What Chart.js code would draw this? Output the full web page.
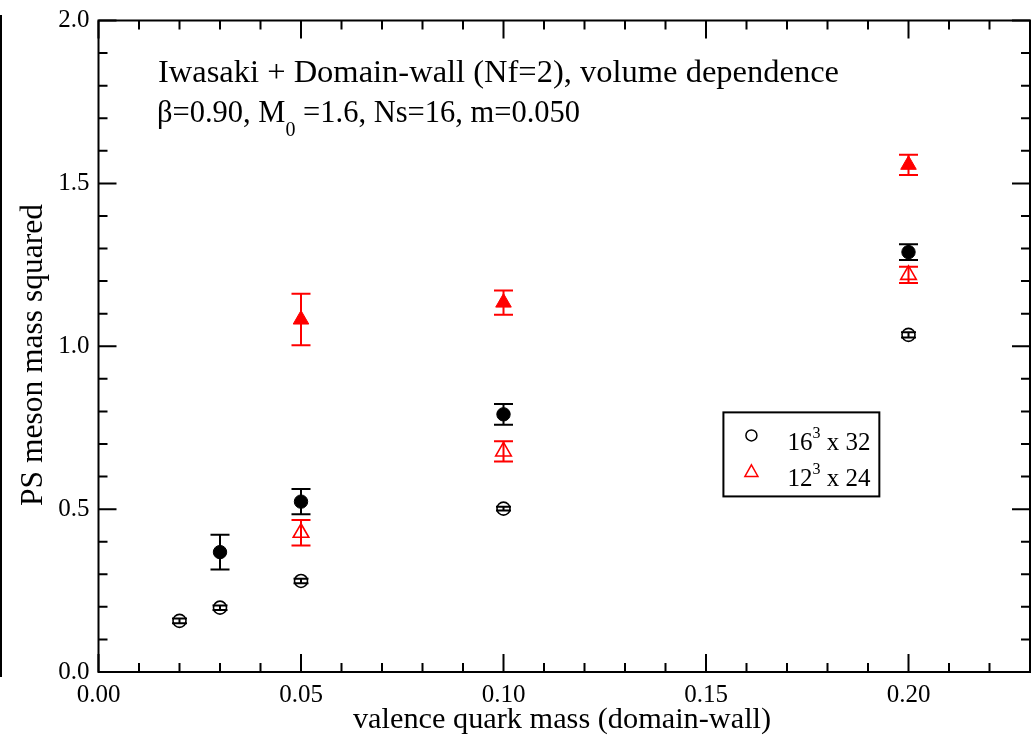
<!DOCTYPE html>
<html>
<head>
<meta charset="utf-8">
<script src="https://cdn.jsdelivr.net/npm/chart.js@4.4.1/dist/chart.umd.min.js"></script>
<style>
  html, body { margin: 0; padding: 0; background: #fff; }
  canvas { display: block; }
</style>
</head>
<body>
<canvas id="c" width="1033" height="735"></canvas>
<script>
const SERIF = '"Liberation Serif", "Times New Roman", serif';

// valence quark masses
const massAll   = [0.02, 0.03, 0.05, 0.10, 0.20];
const massHeavy = [0.03, 0.05, 0.10, 0.20];
const massLarge = [0.05, 0.10, 0.20];

// 16^3 x 32 : open circles
const ps16Open    = [0.157, 0.1975, 0.2795, 0.5015, 1.035];
const ps16OpenErr = [0.007, 0.007, 0.007, 0.006, 0.008];
// 16^3 x 32 : filled circles
const ps16Full    = [0.368, 0.523, 0.791, 1.289];
const ps16FullErr = [0.053, 0.039, 0.032, 0.024];
// 12^3 x 24 : open triangles
const ps12Open    = [0.4275, 0.677, 1.219];
const ps12OpenErr = [0.039, 0.031, 0.025];
// 12^3 x 24 : filled triangles
const ps12Full    = [1.082, 1.134, 1.557];
const ps12FullErr = [0.079, 0.037, 0.031];

const xTicks = [0.00, 0.05, 0.10, 0.15, 0.20];
const yTicks = [0.0, 0.5, 1.0, 1.5, 2.0];

const titleText = 'Iwasaki + Domain-wall (Nf=2), volume dependence';
const subtitleParts = ['\u03B2=0.90, M', '0', ' =1.6, Ns=16, m=0.050'];
const xTitle = 'valence quark mass (domain-wall)';
const yTitle = 'PS meson mass squared';
const legendLabels = [['16', '3', ' x 32'], ['12', '3', ' x 24']];

const points = (xs, ys, es) => xs.map((x, i) => ({ x: x, y: ys[i], err: es[i] }));

const RED = '#ff0000';
const BLACK = '#000000';

// vertical error bars with caps, drawn underneath the symbols
const errorBars = {
  id: 'errorBars',
  beforeDatasetsDraw(chart) {
    const ctx = chart.ctx;
    const xs = chart.scales.x, ys = chart.scales.y;
    chart.data.datasets.forEach(ds => {
      ctx.save();
      ctx.strokeStyle = ds.borderColor;
      ctx.lineWidth = 2;
      const cap = ds.capHalf;
      ds.data.forEach(p => {
        const px = xs.getPixelForValue(p.x);
        const top = ys.getPixelForValue(p.y + p.err);
        const bot = ys.getPixelForValue(p.y - p.err);
        ctx.beginPath();
        ctx.moveTo(px, top); ctx.lineTo(px, bot);
        ctx.moveTo(px - cap, top); ctx.lineTo(px + cap, top);
        ctx.moveTo(px - cap, bot); ctx.lineTo(px + cap, bot);
        ctx.stroke();
      });
      ctx.restore();
    });
  }
};

// frame with inward ticks on all four sides, plus titles and legend
const decorations = {
  id: 'decorations',
  afterDraw(chart) {
    const ctx = chart.ctx;
    const ca = chart.chartArea;
    const xs = chart.scales.x, ys = chart.scales.y;
    ctx.save();
    ctx.strokeStyle = BLACK;
    ctx.lineWidth = 2;
    ctx.strokeRect(ca.left, ca.top, ca.right - ca.left, ca.bottom - ca.top);

    ctx.beginPath();
    for (let i = 0; i <= 23; i++) {
      const v = i / 100;
      const len = (i % 5 === 0) ? 18 : 9;
      const px = xs.getPixelForValue(v);
      ctx.moveTo(px, ca.bottom); ctx.lineTo(px, ca.bottom - len);
      ctx.moveTo(px, ca.top); ctx.lineTo(px, ca.top + len);
    }
    for (let i = 0; i <= 20; i++) {
      const v = i / 10;
      const len = (i % 5 === 0) ? 18 : 9;
      const py = ys.getPixelForValue(v);
      ctx.moveTo(ca.left, py); ctx.lineTo(ca.left + len, py);
      ctx.moveTo(ca.right, py); ctx.lineTo(ca.right - len, py);
    }
    ctx.stroke();

    // left page rule
    ctx.fillStyle = BLACK;
    ctx.fillRect(0, 15, 2, 662);

    // headings
    ctx.fillStyle = BLACK;
    ctx.textBaseline = 'alphabetic';
    ctx.textAlign = 'left';
    ctx.font = '32.5px ' + SERIF;
    ctx.fillText(titleText, 158, 82);
    ctx.font = '30.5px ' + SERIF;
    let tx = 157;
    ctx.fillText(subtitleParts[0], tx, 122);
    tx += ctx.measureText(subtitleParts[0]).width;
    ctx.font = '20px ' + SERIF;
    ctx.fillText(subtitleParts[1], tx, 136);
    tx += ctx.measureText(subtitleParts[1]).width;
    ctx.font = '30.5px ' + SERIF;
    ctx.fillText(subtitleParts[2], tx, 122);

    // axis titles
    ctx.textAlign = 'center';
    ctx.textBaseline = 'alphabetic';
    ctx.font = '30.3px ' + SERIF;
    ctx.fillText(xTitle, 562, 728);
    ctx.save();
    ctx.font = '31.5px ' + SERIF;
    ctx.translate(42, 355);
    ctx.rotate(-Math.PI / 2);
    ctx.fillText(yTitle, 0, 0);
    ctx.restore();

    // legend box, placed in data coordinates
    const lx0 = xs.getPixelForValue(0.1543), lx1 = xs.getPixelForValue(0.1928);
    const ly0 = ys.getPixelForValue(0.797), ly1 = ys.getPixelForValue(0.539);
    ctx.lineWidth = 2;
    ctx.strokeRect(lx0, ly0, lx1 - lx0, ly1 - ly0);
    const symX = lx0 + 28;
    const rows = [ly0 + 23, ly0 + 59];
    ctx.lineWidth = 1.5;
    ctx.strokeStyle = BLACK;
    ctx.beginPath(); ctx.arc(symX, rows[0], 5.5, 0, Math.PI * 2); ctx.stroke();
    ctx.strokeStyle = RED;
    ctx.beginPath();
    ctx.moveTo(symX, rows[1] - 6.5);
    ctx.lineTo(symX + 6.5, rows[1] + 5);
    ctx.lineTo(symX - 6.5, rows[1] + 5);
    ctx.closePath();
    ctx.stroke();

    ctx.fillStyle = BLACK;
    ctx.textAlign = 'left';
    legendLabels.forEach((parts, i) => {
      const base = rows[i] + 15;
      let x = lx0 + 64;
      ctx.font = '25px ' + SERIF;
      ctx.fillText(parts[0], x, base);
      x += ctx.measureText(parts[0]).width;
      ctx.font = '16px ' + SERIF;
      ctx.fillText(parts[1], x, base - 12);
      x += ctx.measureText(parts[1]).width;
      ctx.font = '25px ' + SERIF;
      ctx.fillText(parts[2], x, base);
    });
    ctx.restore();
  }
};

new Chart(document.getElementById('c'), {
  type: 'scatter',
  data: {
    datasets: [
      { label: '16^3 x 32', data: points(massAll, ps16Open, ps16OpenErr),
        pointStyle: 'circle', pointRadius: 6.5, pointHoverRadius: 6.5,
        borderColor: BLACK, backgroundColor: 'rgba(0,0,0,0)', pointBorderWidth: 1.6, capHalf: 7.5 },
      { label: '16^3 x 32 (m)', data: points(massHeavy, ps16Full, ps16FullErr),
        pointStyle: 'circle', pointRadius: 6.7, pointHoverRadius: 6.7,
        borderColor: BLACK, backgroundColor: BLACK, pointBorderWidth: 1, capHalf: 9.5 },
      { label: '12^3 x 24', data: points(massLarge, ps12Open, ps12OpenErr),
        pointStyle: 'triangle', pointRadius: 9, pointHoverRadius: 9,
        borderColor: RED, backgroundColor: 'rgba(0,0,0,0)', pointBorderWidth: 1.6, capHalf: 9.5 },
      { label: '12^3 x 24 (m)', data: points(massLarge, ps12Full, ps12FullErr),
        pointStyle: 'triangle', pointRadius: 9, pointHoverRadius: 9,
        borderColor: RED, backgroundColor: RED, pointBorderWidth: 1, capHalf: 9.5 }
    ]
  },
  options: {
    responsive: false,
    animation: false,
    devicePixelRatio: 1,
    layout: { autoPadding: false, padding: { left: 0, right: 3, top: 20.5, bottom: 0 } },
    plugins: { legend: { display: false }, tooltip: { enabled: false } },
    scales: {
      x: {
        type: 'linear', min: 0, max: 0.23,
        grid: { display: false, drawTicks: false },
        border: { display: false },
        afterBuildTicks: s => { s.ticks = xTicks.map(v => ({ value: v })); },
        afterFit: s => { s.height = 63; s.paddingLeft = 0; s.paddingRight = 0; },
        ticks: { padding: 8, color: BLACK, maxRotation: 0,
                 font: { family: SERIF, size: 25 },
                 callback: v => Number(v).toFixed(2) }
      },
      y: {
        type: 'linear', min: 0, max: 2,
        grid: { display: false, drawTicks: false },
        border: { display: false },
        afterBuildTicks: s => { s.ticks = yTicks.map(v => ({ value: v })); },
        afterFit: s => { s.width = 98.5; s.paddingTop = 0; s.paddingBottom = 0; },
        ticks: { padding: 9, color: BLACK,
                 font: { family: SERIF, size: 25 },
                 callback: v => Number(v).toFixed(1) }
      }
    }
  },
  plugins: [errorBars, decorations]
});
</script>
</body>
</html>
